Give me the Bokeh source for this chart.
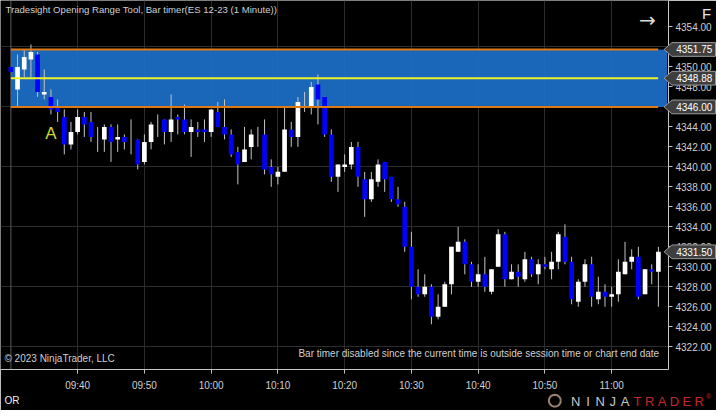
from bokeh.plotting import figure
from bokeh.models import (FixedTicker, Label, BoxAnnotation, Span,
                          NumeralTickFormatter, ColumnDataSource, Range1d)
from bokeh.core.properties import value
from bokeh.embed import file_html
from bokeh.resources import INLINE
import math

# ---------------- data ----------------
minutes = list(range(570, 668))  # 09:30 .. 11:07, one bar per minute
opens = [4350.0, 4347.75, 4349.75, 4350.75, 4351.25, 4347.25, 4347.0, 4346.0, 4345.0, 4342.25,
         4343.5, 4345.0, 4344.5, 4342.75, 4342.75, 4344.0, 4342.75, 4343.0, 4343.0, 4342.75,
         4340.5, 4342.5, 4344.0, 4344.75, 4343.5, 4345.0, 4344.75, 4343.5, 4343.75, 4343.75,
         4343.5, 4345.5, 4344.0, 4343.25, 4341.5, 4340.5, 4342.0, 4343.0, 4343.25, 4340.0,
         4339.0, 4339.5, 4343.75, 4343.0, 4346.5, 4346.0, 4348.25, 4347.0, 4343.25, 4339.0,
         4340.0, 4340.25, 4342.0, 4338.75, 4336.75, 4338.5, 4340.5, 4339.0, 4336.75, 4336.0,
         4332.0, 4328.0, 4327.25, 4328.0, 4325.0, 4326.0, 4328.25, 4331.5, 4332.5, 4330.25,
         4328.5, 4329.25, 4327.5, 4330.0, 4333.25, 4328.75, 4329.5, 4328.75, 4330.75, 4329.25,
         4330.25, 4329.75, 4330.5, 4333.0, 4330.5, 4326.5, 4328.5, 4330.25, 4326.75, 4327.5,
         4327.0, 4327.25, 4329.25, 4330.5, 4331.0, 4327.25, 4329.75, 4329.5]
highs = [4350.0, 4351.25, 4351.75, 4352.25, 4351.5, 4349.75, 4347.75, 4346.75, 4345.75, 4344.5,
         4345.75, 4345.5, 4345.5, 4344.0, 4344.25, 4344.25, 4344.25, 4343.25, 4344.75, 4342.75,
         4343.25, 4344.5, 4345.25, 4344.75, 4347.25, 4345.25, 4346.25, 4344.75, 4344.5, 4344.75,
         4345.75, 4346.5, 4346.75, 4343.75, 4342.0, 4344.0, 4343.75, 4344.0, 4344.75, 4340.75,
         4340.0, 4346.0, 4344.5, 4347.0, 4347.5, 4348.5, 4349.25, 4347.0, 4343.75, 4340.25,
         4341.25, 4342.5, 4342.5, 4339.5, 4339.5, 4340.75, 4340.5, 4339.0, 4338.0, 4336.5,
         4333.5, 4329.75, 4329.25, 4328.25, 4327.25, 4328.5, 4332.0, 4334.0, 4332.75, 4330.5,
         4330.25, 4331.0, 4329.75, 4333.75, 4333.5, 4330.25, 4330.25, 4331.5, 4331.0, 4330.75,
         4331.0, 4331.5, 4333.5, 4334.25, 4331.0, 4328.75, 4330.75, 4331.0, 4329.0, 4328.25,
         4328.0, 4330.75, 4332.5, 4331.75, 4332.0, 4329.75, 4330.25, 4332.0]
lows = [4349.5, 4346.0, 4349.0, 4349.0, 4347.0, 4346.75, 4345.25, 4344.5, 4341.25, 4341.75,
        4343.25, 4343.0, 4342.5, 4341.5, 4341.5, 4340.5, 4341.5, 4341.75, 4341.25, 4339.75,
        4340.25, 4341.75, 4343.0, 4342.25, 4342.5, 4343.25, 4343.25, 4341.0, 4343.0, 4342.5,
        4343.0, 4344.0, 4342.75, 4341.0, 4338.25, 4340.5, 4340.75, 4342.0, 4339.25, 4338.0,
        4338.25, 4339.5, 4342.0, 4342.0, 4345.5, 4345.25, 4344.25, 4343.0, 4338.5, 4337.5,
        4339.5, 4339.75, 4338.0, 4335.0, 4336.5, 4338.0, 4337.5, 4336.5, 4336.0, 4331.5,
        4326.75, 4327.0, 4327.0, 4324.25, 4324.75, 4326.0, 4327.25, 4331.5, 4329.25, 4328.0,
        4328.0, 4327.5, 4327.25, 4330.0, 4328.0, 4328.75, 4328.0, 4328.5, 4329.0, 4328.25,
        4329.75, 4328.75, 4329.75, 4330.25, 4326.25, 4326.0, 4328.0, 4326.0, 4326.25, 4326.0,
        4326.0, 4326.5, 4329.25, 4329.75, 4326.75, 4327.25, 4328.25, 4326.0]
closes = [4349.5, 4350.0, 4351.0, 4351.5, 4347.5, 4347.5, 4345.75, 4345.5, 4342.25, 4343.5,
          4345.0, 4344.25, 4343.0, 4342.75, 4344.0, 4342.5, 4343.0, 4342.5, 4343.0, 4340.25,
          4342.5, 4344.25, 4344.0, 4343.5, 4344.75, 4344.75, 4343.5, 4344.0, 4343.5, 4343.5,
          4345.75, 4344.0, 4343.25, 4341.25, 4340.25, 4341.75, 4343.25, 4343.0, 4339.75, 4339.25,
          4339.5, 4343.75, 4343.0, 4346.5, 4346.5, 4348.0, 4346.75, 4343.25, 4339.0, 4340.25,
          4340.25, 4342.0, 4339.0, 4336.75, 4338.75, 4340.25, 4338.75, 4336.75, 4336.25, 4332.0,
          4328.0, 4327.25, 4328.0, 4325.0, 4326.0, 4328.25, 4332.0, 4332.5, 4330.25, 4328.5,
          4329.25, 4328.0, 4329.75, 4333.25, 4328.75, 4329.5, 4329.0, 4330.75, 4329.25, 4330.25,
          4330.0, 4330.5, 4333.25, 4330.5, 4326.75, 4328.5, 4330.25, 4327.0, 4327.5, 4327.0,
          4327.25, 4329.5, 4330.5, 4331.0, 4327.0, 4329.75, 4329.5, 4331.5]

or_high = 4351.75
or_mid = 4348.875
or_low = 4346.00
marker_prices = [4351.75, 4348.875, 4346.00, 4331.50]
marker_texts = ["4351.75", "4348.88", "4346.00", "4331.50"]

x_tick_pos = [580, 590, 600, 610, 620, 630, 640, 650, 660]
x_tick_labels = ["09:40", "09:50", "10:00", "10:10", "10:20", "10:30", "10:40", "10:50", "11:00"]
y_ticks = [4322, 4324, 4326, 4328, 4330, 4332, 4334, 4336, 4338, 4340, 4342, 4344,
           4346, 4348, 4350, 4352, 4354]
y_grid = [4322, 4328, 4334, 4340, 4346, 4352]

title_text = "Tradesight Opening Range Tool, Bar timer(ES 12-23 (1 Minute))"
copyright_text = "\u00a9 2023 NinjaTrader, LLC"
bar_timer_text = "Bar timer disabled since the current time is outside session time or chart end date"
logo_text = "NINJATRADER"

# ------------- geometry: reference pixel -> data (canvas is the reference scaled to fit) ----
W, H = 716, 410
SX, SY = W / 724, H / 418
PX_PER_MIN = 6.75
PX_PER_PT = 10.1875
def dx(px):
    return 580 + (px - 78) / PX_PER_MIN
def dy(py):
    return 4354 - (py - 27) / PX_PER_PT

frame_r, frame_b = 668, 369
FONT = "Liberation Sans"
TXT = "#cfcfcf"

p = figure(width=W, height=H,
           x_range=Range1d(dx(0), dx(frame_r / SX)), y_range=Range1d(dy(frame_b / SY), dy(0)),
           y_axis_location="right", output_backend="svg", toolbar_location=None,
           min_border_left=0, min_border_top=0, min_border_right=W - frame_r,
           min_border_bottom=H - frame_b,
           background_fill_color="#000000", border_fill_color="#000000",
           outline_line_color=None)

p.xgrid.ticker = FixedTicker(ticks=x_tick_pos)
p.ygrid.ticker = FixedTicker(ticks=y_grid)
p.grid.grid_line_color = "#2c2c2c"
p.grid.grid_line_width = 1

for ax in (p.xaxis[0], p.yaxis[0]):
    ax.axis_line_color = "#c4c4c4"
    ax.major_tick_line_color = "#c4c4c4"
    ax.major_tick_in = 0
    ax.major_tick_out = 4
    ax.minor_tick_line_color = None
    ax.major_label_text_color = TXT
    ax.major_label_text_font = FONT
    ax.major_label_text_font_size = "10px"
p.xaxis[0].ticker = FixedTicker(ticks=x_tick_pos)
p.xaxis[0].major_label_overrides = {k: v for k, v in zip(x_tick_pos, x_tick_labels)}
p.xaxis[0].major_label_standoff = 6
p.yaxis[0].ticker = FixedTicker(ticks=y_ticks)
p.yaxis[0].formatter = NumeralTickFormatter(format="0.00")
p.yaxis[0].major_label_standoff = 3

# session start line
p.add_layout(Span(location=minutes[0], dimension="height", line_color="#5c5c5c",
                  line_width=1, level="underlay"))
# opening range box
p.add_layout(BoxAnnotation(left=minutes[0], right=dx(674), bottom=or_low, top=or_high,
                           fill_color="#1c6ec6", fill_alpha=0.93, line_color=None,
                           level="underlay"))

# candles
body_top = [max(o, c) for o, c in zip(opens, closes)]
body_bot = [min(o, c) for o, c in zip(opens, closes)]
body_col = ["#ffffff" if c > o else ("#0000ff" if c < o else "#c0c0c0")
            for o, c in zip(opens, closes)]
src = ColumnDataSource(dict(t=minutes, o=opens, h=highs, l=lows, c=closes,
                            top=body_top, bot=body_bot, col=body_col))
p.segment(x0="t", y0="l", x1="t", y1="h", source=src, line_color="#c4c4c4", line_width=1)
p.vbar(x="t", width=0.7, top="top", bottom="bot", source=src,
       fill_color="col", line_color=None)

# opening range lines
xe = dx(665)
p.segment(x0=[minutes[0]] * 3, x1=[xe] * 3, y0=[or_high, or_mid, or_low],
          y1=[or_high, or_mid, or_low], line_color=["#e07a16", "#f2f22a", "#e07a16"],
          line_width=2)

# "A" marker
p.add_layout(Label(x=dx(51), y=dy(136), text="A", text_align="center", text_baseline="middle",
                   text_font=FONT, text_font_size="17px", text_color="#c9d93a"))

# texts in the plot area
p.add_layout(Label(x=dx(5), y=dy(9.5), text=title_text, text_baseline="middle",
                   text_font=FONT, text_font_size="9.6px", text_color=TXT))
p.add_layout(Label(x=dx(4), y=dy(364.5), text=copyright_text, text_baseline="middle",
                   text_font=FONT, text_font_size="10px", text_color=TXT))
p.add_layout(Label(x=dx(666), y=dy(360), text=bar_timer_text, text_baseline="middle",
                   text_align="right", text_font=FONT, text_font_size="10px",
                   text_color=TXT))
p.add_layout(Label(x=dx(654), y=dy(20), text="\u2192", text_align="center",
                   text_baseline="middle", text_font="DejaVu Sans", text_font_size="20px",
                   text_color="#dcdcdc"))

# ---- items outside the frame: overlay-level glyphs (not clipped) ----
hh = 7 / PX_PER_PT
tag_xs = [[dx(671), dx(679), dx(723), dx(723), dx(679)] for _ in marker_prices]
tag_ys = [[pr, pr + hh, pr + hh, pr - hh, pr - hh] for pr in marker_prices]
p.patches(xs=tag_xs, ys=tag_ys, fill_color="#3e3e3e", line_color="#9a9a9a",
          line_width=1, level="overlay")
p.text(x=[dx(701.5)] * len(marker_prices), y=marker_prices, text=marker_texts,
       text_align="center", text_baseline="middle", text_font=value(FONT),
       text_font_size="10px", text_color="#ffffff", level="overlay")

# F button
p.patches(xs=[[dx(705), dx(723), dx(723), dx(705)]], ys=[[dy(3), dy(3), dy(24), dy(24)]],
          fill_color="#3a3a3a", line_color=None, level="overlay")
p.text(x=[dx(714)], y=[dy(13.5)], text=["F"], text_align="center", text_baseline="middle",
       text_font=value(FONT), text_font_size="15px", text_color="#e6e6e6", level="overlay")

# OR legend text
p.text(x=[dx(4)], y=[dy(408)], text=["OR"], text_baseline="middle", text_font=value(FONT),
       text_font_size="10px", text_color="#eeeeee", level="overlay")

# NinjaTrader logo: ring + red swoosh + spaced letters
cx, cy, r = 560.5, 408, 6
ang = [2 * math.pi * k / 32 for k in range(33)]
p.line(x=[dx(cx + r * math.cos(a)) for a in ang], y=[dy(cy + r * math.sin(a)) for a in ang],
       line_color="#9a8070", line_width=2, level="overlay")
p.patches(xs=[[dx(556.5), dx(558.5), dx(560.5), dx(563.5), dx(561.5), dx(559.5)]],
          ys=[[dy(402.5), dy(402.5), dy(410), dy(402.5), dy(414), dy(414)]],
          fill_color="#c0262c", line_color=None, level="overlay")
p.text(x=[dx(581.5 + k * 12.5) for k in range(len(logo_text))],
       y=[dy(408.5)] * len(logo_text), text=list(logo_text), text_align="center",
       text_baseline="middle", text_font=value(FONT), text_font_size="13px",
       text_color=["#c8c8c8"] * 5 + ["#c4262e"] * 6, level="overlay")
p.text(x=[dx(716)], y=[dy(403.5)], text=["\u00ae"], text_align="center",
       text_baseline="middle", text_font=value(FONT), text_font_size="7px",
       text_color="#c4262e", level="overlay")

open("out.html", "w").write(file_html(p, INLINE))
